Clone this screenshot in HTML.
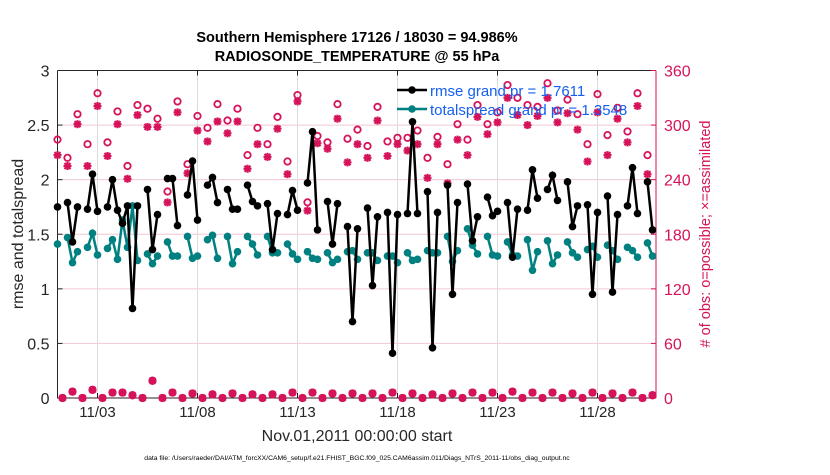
<!DOCTYPE html>
<html><head><meta charset="utf-8"><style>
body{margin:0;background:#fff;width:830px;height:470px;overflow:hidden;font-family:"Liberation Sans",Arial,sans-serif}
svg text{font-family:"Liberation Sans",Arial,sans-serif}
</style></head><body>
<svg id="chart" width="830" height="470" xmlns="http://www.w3.org/2000/svg"></svg>
<script>
const rmse=[1.75,NaN,1.79,1.43,1.75,NaN,1.73,2.05,1.71,NaN,1.75,2.0,1.72,1.60,1.76,0.82,1.76,NaN,1.91,1.36,1.68,NaN,2.01,2.01,1.58,NaN,1.86,2.17,1.63,NaN,1.95,2.02,1.79,NaN,1.91,1.73,1.73,NaN,1.95,1.80,1.76,NaN,1.78,1.36,1.69,NaN,1.68,1.90,1.72,NaN,1.97,2.44,1.54,NaN,1.80,1.41,1.78,NaN,1.57,0.70,1.55,NaN,1.74,1.03,1.66,NaN,1.70,0.41,1.68,NaN,1.69,2.53,1.69,NaN,1.89,0.46,1.70,NaN,1.95,0.95,1.79,NaN,1.96,1.44,1.66,NaN,1.84,1.67,1.71,NaN,1.79,1.29,1.73,NaN,1.72,2.09,1.83,NaN,1.91,2.04,1.81,NaN,1.98,1.57,1.76,NaN,1.77,0.95,1.70,NaN,1.85,0.97,1.68,NaN,1.76,2.11,1.69,NaN,1.98,1.54];
const spread=[1.41,NaN,1.47,1.24,1.34,NaN,1.38,1.51,1.31,NaN,1.37,1.45,1.27,1.63,1.38,1.76,1.26,NaN,1.32,1.23,1.30,NaN,1.43,1.30,1.30,NaN,1.48,1.28,1.30,NaN,1.45,1.49,1.28,NaN,1.48,1.23,1.34,NaN,1.48,1.41,1.31,NaN,1.48,1.33,1.33,NaN,1.41,1.32,1.27,NaN,1.34,1.28,1.27,NaN,1.33,1.24,1.27,NaN,1.34,1.35,1.27,NaN,1.33,1.33,1.26,NaN,1.30,1.30,1.24,NaN,1.33,1.26,1.27,NaN,1.35,1.33,1.33,NaN,1.48,1.25,1.35,NaN,1.55,1.40,1.32,NaN,1.48,1.31,1.30,NaN,1.43,1.31,1.30,NaN,1.45,1.17,1.34,NaN,1.44,1.23,1.31,NaN,1.43,1.33,1.29,NaN,1.36,1.39,1.29,NaN,1.40,1.35,1.27,NaN,1.38,1.35,1.29,NaN,1.42,1.30];
const possibleHigh=[284,264,312,279,335,281,315,255,322,318,307,227,326,257,310,297,323,305,318,267,297,279,309,260,333,215,288,281,323,285,295,277,320,282,286,286,294,264,287,257,301,284,322,301,314,344,330,322,320,346,316,328,312,279,334,289,319,293,335,267];
const assimHigh=[267,255,301,255,321,266,301,241,311,298,298,215,314,247,294,282,304,291,304,252,279,265,296,246,326,206,280,274,307,259,279,264,305,266,279,272,279,242,279,236,284,267,309,290,303,330,311,300,310,330,303,313,295,260,314,267,307,281,321,246];
const obsLow=[0,7,0,9,0,6,6,3,0,19,0,6,0,5,0,4,0,5,0,4,0,4,0,6,0,6,0,5,0,5,0,5,0,6,0,5,0,4,0,5,0,6,0,6,0,7,0,6,0,6,0,5,0,6,0,5,0,6,0,3];
const leftTicks=[0,0.5,1,1.5,2,2.5,3];
const rightTicks=[0,60,120,180,240,300,360];
const dateTicks=[2,7,12,17,22,27];
const dateLabels=['11/03','11/08','11/13','11/18','11/23','11/28'];

const svg=document.getElementById('chart');const NS='http://www.w3.org/2000/svg';
const X0=57.5,X1=656,Y0=398,Y1=70.5;
const xs=t=>X0+20*t;
const yl=v=>Y0-(Y0-Y1)*v/3;
const yr=v=>Y0-(Y0-Y1)*v/360;
function mk(tag,a,p){const e=document.createElementNS(NS,tag);for(const k in a)e.setAttribute(k,a[k]);(p||svg).appendChild(e);return e;}
function txt(s,a){const e=mk('text',a);e.textContent=s;return e;}
const crim='#d6135a',teal='#008080';
rightTicks.forEach(v=>{const l=mk('line',{x1:X0,x2:X1,y1:yr(v),y2:yr(v),stroke:'#f3c6d4','stroke-width':1});

});
dateTicks.forEach((d,i)=>{const l=mk('line',{x1:xs(d),x2:xs(d),y1:Y1,y2:Y0,stroke:'#dcdcdc','stroke-width':1});


mk('line',{x1:xs(d),x2:xs(d),y1:Y0,y2:Y0-5,stroke:'#222'});mk('line',{x1:xs(d),x2:xs(d),y1:Y1,y2:Y1+5,stroke:'#222'});
const t=txt(dateLabels[i],{x:xs(d),y:Y0+19,'font-size':15,'text-anchor':'middle',fill:'#262626'});

});
mk('path',{d:`M${X0} ${Y1}V${Y0}H${X1}`,stroke:'#262626',fill:'none','stroke-width':1});
mk('line',{x1:X0,x2:X1,y1:Y1,y2:Y1,stroke:'#262626'});
mk('line',{x1:X1,x2:X1,y1:Y1,y2:Y0,stroke:crim});
leftTicks.forEach(v=>{mk('line',{x1:X0,x2:X0+5,y1:yl(v),y2:yl(v),stroke:'#262626'});
const t=txt(String(v),{x:X0-8,y:yl(v)+6,'font-size':16,'text-anchor':'end',fill:'#262626'});

});
rightTicks.forEach(v=>{mk('line',{x1:X1-5,x2:X1,y1:yr(v),y2:yr(v),stroke:crim});
const t=txt(String(v),{x:X1+8,y:yr(v)+6,'font-size':16,fill:crim});

});
function series(arr,color,name){let d='',pen=false;arr.forEach((v,i)=>{if(isNaN(v)){pen=false;return;}d+=(pen?'L':'M')+xs(i/4)+' '+yl(v);pen=true;});
const p=mk('path',{d,stroke:color,fill:'none','stroke-width':2.5});


arr.forEach((v,i)=>{if(isNaN(v))return;const c=mk('circle',{cx:xs(i/4),cy:yl(v),r:3.8,fill:color});

});}
function star(x,y){const g=mk('g',{stroke:crim,'stroke-width':2.2});


mk('line',{x1:x-4,x2:x+4,y1:y,y2:y},g);mk('line',{x1:x,x2:x,y1:y-4,y2:y+4},g);mk('line',{x1:x-3,x2:x+3,y1:y-3,y2:y+3},g);mk('line',{x1:x-3,x2:x+3,y1:y+3,y2:y-3},g);}
function ring(x,y){const c=mk('circle',{cx:x,cy:y,r:3.2,fill:'none',stroke:crim,'stroke-width':1.8});

}
possibleHigh.forEach((v,k)=>ring(xs(2*k/4),yr(v)));
assimHigh.forEach((v,k)=>star(xs(2*k/4),yr(v)));
obsLow.forEach((v,k)=>{const x=xs((2*k+1)/4),y=yr(v);ring(x,y);star(x,y);const d=mk('path',{d:`M${x} ${y-4}L${x+4} ${y}L${x} ${y+4}L${x-4} ${y}Z`,fill:crim});

});
series(spread,teal,'totalspread');
series(rmse,'#000','rmse');
const lg=mk('g',{});
mk('line',{x1:397,x2:427,y1:90,y2:90,stroke:'#000','stroke-width':2.5},lg);mk('circle',{cx:412,cy:90,r:3.8,fill:'#000'},lg);
mk('line',{x1:397,x2:427,y1:109,y2:109,stroke:teal,'stroke-width':2.5},lg);mk('circle',{cx:412,cy:109,r:3.8,fill:teal},lg);
const l1=txt('rmse grand pr = 1.7611',{x:430,y:96,'font-size':15,fill:'#1560f0'});
const l2=txt('totalspread grand pr = 1.3548',{x:430,y:115,'font-size':15,fill:'#1560f0'});
const t1=txt('Southern Hemisphere 17126 / 18030 = 94.986%',{x:357,y:42,'font-size':14.5,'font-weight':'bold','text-anchor':'middle',fill:'#000'});
const t2=txt('RADIOSONDE_TEMPERATURE @ 55 hPa',{x:357,y:61,'font-size':14.5,'font-weight':'bold','text-anchor':'middle',fill:'#000'});
const xt=txt('Nov.01,2011 00:00:00 start',{x:357,y:441,'font-size':16,'text-anchor':'middle',fill:'#262626'});
const yt=txt('rmse and totalspread',{x:0,y:0,'font-size':16,'text-anchor':'middle',fill:'#262626',transform:'translate(23,234) rotate(-90)'});
const yt2=txt('# of obs: o=possible; \u00d7=assimilated',{x:0,y:0,'font-size':14.5,'text-anchor':'middle',fill:crim,transform:'translate(710,234) rotate(-90)'});
const ft=txt('data file: /Users/raeder/DAI/ATM_forcXX/CAM6_setup/f.e21.FHIST_BGC.f09_025.CAM6assim.011/Diags_NTrS_2011-11/obs_diag_output.nc',{x:357,y:460,'font-size':6.8,'text-anchor':'middle',fill:'#000'});
</script>
</body></html>
